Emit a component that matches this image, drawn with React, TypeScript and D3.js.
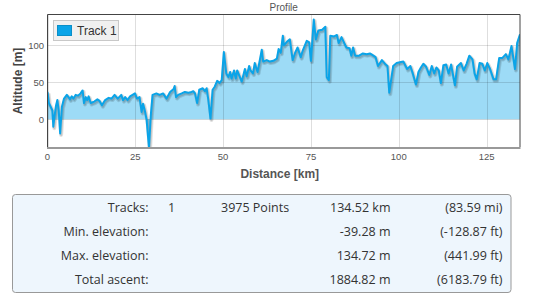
import React from "react";
import * as d3 from "d3";

const distanceKm = [
  0, 0.4, 0.9, 1.4, 1.65, 2.0, 2.4, 2.8, 3.2, 3.6, 4.1, 4.7, 5.5, 6.0, 6.4, 6.9, 7.4, 8.0, 8.7, 9.4,
  10.0, 10.4, 10.9, 11.3, 11.7, 12.3, 13.3, 14.2, 14.8, 15.5, 16.4, 17.4, 18.2, 19.1, 20.0, 21.0, 21.5,
  22.1, 22.8, 23.5, 24.9, 25.5, 26.2, 26.8, 27.2, 27.7, 28.2, 28.9, 29.4, 29.9, 31.0, 31.9, 32.9, 33.9,
  34.9, 35.9, 36.2, 36.6, 37.2, 38.2, 39.1, 40.1, 41.0, 41.5, 42.0, 42.6, 43.2, 44.2, 44.8, 45.3, 45.8,
  46.4, 47.0, 47.6, 48.3, 49.0, 49.6, 50.2, 50.9, 51.5, 52.0, 52.4, 53.1, 53.6, 54.0, 54.7, 55.3, 56.2,
  56.7, 57.4, 57.8, 58.5, 59.0, 59.8, 60.6, 61.0, 61.4, 62.4, 63.3, 64.3, 65.3, 65.8, 66.4, 67.0, 67.3,
  68.2, 69.0, 69.8, 70.5, 71.2, 72.1, 72.6, 73.8, 74.5, 75.0, 75.8, 76.4, 77.1, 78.2, 79.1, 79.5, 80.1,
  80.5, 81.6, 82.4, 82.9, 83.7, 84.5, 85.1, 86.0, 86.5, 87.0, 87.6, 88.7, 89.8, 90.9, 91.8, 92.8, 93.4,
  94.1, 95.2, 96.3, 96.8, 97.3, 98.4, 99.4, 100.3, 101.3, 102.4, 103.3, 104.0, 104.9, 105.6, 106.3,
  107.0, 107.8, 108.7, 109.4, 110.1, 110.7, 111.4, 112.0, 112.7, 113.5, 114.2, 114.9, 116.0, 116.6,
  117.7, 118.5, 119.3, 120.1, 121.0, 121.6, 122.2, 123.0, 123.8, 124.5, 125.2, 126.0, 127.0, 127.7,
  128.6, 129.5, 130.5, 131.2, 132.1, 133.1, 133.7, 134.52,
];

const elevationM = [
  37, 22, 17, 12, -10, 4, 18, 26, 12, -19, 17, 28, 33, 30, 27, 31, 28, 33, 32, 35,
  39, 22, 30, 26, 31, 22, 24, 27, 25, 19, 26, 29, 28, 33, 28, 33, 26,
  30, 26, 31, 35, 28, 30, 10, 21, 12, 0, -39.28, 5, 33, 35, 33, 35, 28,
  37, 41, 45, 30, 33, 35, 37, 36, 37, 38, 35, 22, 40, 42, 38, 42, 26,
  1, 40, 44, 52, 49, 53, 91, 62, 57, 64, 55, 66, 55, 66, 58, 51, 68,
  58, 72, 66, 62, 76, 64, 84, 94, 78, 80, 78, 79, 82, 95, 90, 113, 100,
  105, 108, 80, 90, 97, 84, 92, 106, 104, 79, 134.72, 108, 120, 121, 125, 57, 53,
  113, 112, 114, 103, 111, 103, 97, 96, 86, 97, 86, 86, 89, 88, 89, 86, 84,
  72, 80, 74, 72, 36, 72, 76, 77, 78, 68, 72, 62, 47, 64, 70,
  75, 71, 60, 72, 62, 70, 66, 49, 73, 74, 62, 74, 46, 71,
  76, 66, 75, 86, 81, 62, 54, 76, 75, 66, 76, 68, 54, 54,
  83, 83, 88, 81, 99, 68, 103, 115,
];

const xTicks = [0, 25, 50, 75, 100, 125];
const yTicks = [0, 50, 100];

const tableLabels = ["Tracks:", "Min. elevation:", "Max. elevation:", "Total ascent:"];
const tableCol2 = ["1", "", "", ""];
const tableCol3 = ["3975 Points", "", "", ""];
const tableMetric = ["134.52 km", "-39.28 m", "134.72 m", "1884.82 m"];
const tableImperial = ["(83.59 mi)", "(-128.87 ft)", "(441.99 ft)", "(6183.79 ft)"];

const seriesName = "Track 1";
const chartTitle = "Profile";

export default function App() {
  const left = 47.5, right = 520, top = 14.5, bottom = 147;
  const x = d3.scaleLinear().domain([0, 134.52]).range([left, right]);
  const y = d3.scaleLinear().domain([-37.4, 141.6]).range([bottom, top]);
  const pts = distanceKm.map((d, i) => [d, elevationM[i]] as [number, number]);
  const line = d3.line<[number, number]>().x((d) => x(d[0])).y((d) => y(d[1]));
  const area = d3
    .area<[number, number]>()
    .x((d) => x(d[0]))
    .y0(y(0))
    .y1((d) => y(d[1]));
  const font = "Arial, 'Liberation Sans', sans-serif";
  const tFont = "'Open Sans', 'Noto Sans', sans-serif";
  const rowY = [211.5, 235.5, 259.5, 283.5];

  return (
    <svg
      width={533}
      height={301}
      style={{ position: "absolute", left: 0, top: 0, background: "#fff" }}
    >
      <defs>
        <clipPath id="plotClip">
          <rect x={left} y={top} width={right - left} height={bottom - top} />
        </clipPath>
      </defs>
      <text x={(left + right) / 2} y={10.5} textAnchor="middle" fontSize={10} fill="#555" fontFamily={font}>
        {chartTitle}
      </text>
      <g clipPath="url(#plotClip)">
        <path d={area(pts) || ""} fill="#0aa4e8" fillOpacity={0.4} />
        {yTicks.map((t) => (
          <line key={"gy" + t} x1={left} x2={right} y1={Math.round(y(t)) + 0.5} y2={Math.round(y(t)) + 0.5} stroke="#000" strokeOpacity={0.13} />
        ))}
        {xTicks.map((t) => (
          <line key={"gx" + t} x1={Math.round(x(t)) + 0.5} x2={Math.round(x(t)) + 0.5} y1={top} y2={bottom} stroke="#000" strokeOpacity={0.13} />
        ))}
        <path d={line(pts) || ""} fill="none" stroke="#000" strokeOpacity={0.12} strokeWidth={4} transform="translate(1,1.5)" strokeLinejoin="round" />
        <path d={line(pts) || ""} fill="none" stroke="#000" strokeOpacity={0.12} strokeWidth={2} transform="translate(1,1.5)" strokeLinejoin="round" />
        <path d={line(pts) || ""} fill="none" stroke="#0aa4e8" strokeWidth={2} strokeLinejoin="round" />
      </g>
      <line x1={left} x2={right} y1={top} y2={top} stroke="#444" />
      <line x1={left} x2={left} y1={top} y2={bottom} stroke="#444" />
      <line x1={right} x2={right} y1={top} y2={bottom} stroke="#444" />
      <line x1={left - 0.5} x2={right + 0.5} y1={bottom + 1} y2={bottom + 1} stroke="#999" strokeWidth={2} />
      {xTicks.map((t) => (
        <text key={"xt" + t} x={x(t)} y={160} textAnchor="middle" fontSize={9.5} fill="#555" fontFamily={font}>
          {t}
        </text>
      ))}
      {yTicks.map((t) => (
        <text key={"yt" + t} x={44} y={y(t) + 3.5} textAnchor="end" fontSize={9.5} fill="#555" fontFamily={font}>
          {t}
        </text>
      ))}
      <text x={(left + right) / 2 - 4} y={178} textAnchor="middle" fontSize={12} fontWeight="bold" fill="#555" fontFamily={font}>
        Distance [km]
      </text>
      <text transform={`translate(22,81) rotate(-90)`} textAnchor="middle" fontSize={12} fontWeight="bold" fill="#444" fontFamily={font}>
        Altitude [m]
      </text>
      <rect x={53.5} y={20.5} width={65} height={20} fill="#f0f0f0" stroke="#c8c8c8" />
      <rect x={57.5} y={25.5} width={14} height={10} fill="#0aa4e8" stroke="#0a8fc8" />
      <text x={77} y={35} fontSize={12} fill="#333" fontFamily={font}>
        {seriesName}
      </text>

      <rect x={12.5} y={194.5} width={498.5} height={98} rx={3} fill="#eef6fd" stroke="#999" />
      {rowY.map((ry, i) => (
        <g key={"row" + i} fontFamily={tFont} fontSize={12.5} fill="#333">
          <text x={148.5} y={ry} textAnchor="end">{tableLabels[i]}</text>
          <text x={168} y={ry}>{tableCol2[i]}</text>
          <text x={221} y={ry}>{tableCol3[i]}</text>
          <text x={390.5} y={ry} textAnchor="end">{tableMetric[i]}</text>
          <text x={502.5} y={ry} textAnchor="end">{tableImperial[i]}</text>
        </g>
      ))}
    </svg>
  );
}
